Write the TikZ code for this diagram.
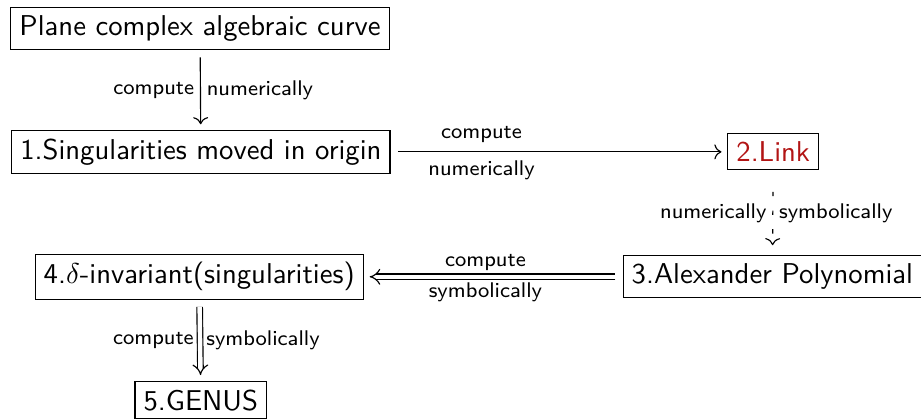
\documentclass[tikz,border=0pt]{standalone}
\usepackage{amsmath,amssymb}
\usepackage{tikz}
\usetikzlibrary{arrows.meta}
\definecolor{linkred}{RGB}{178,20,20}

\begin{document}
\begin{tikzpicture}[font=\sffamily,
  box/.style={draw, inner xsep=3pt, inner ysep=2.8pt},
  lab/.style={font=\sffamily\fontsize{7.4}{9}\selectfont, inner sep=2pt},
  single/.style={->, shorten <=2.5pt, shorten >=2pt},
  twin/.style={double equal sign distance, -Implies, shorten <=2.5pt, shorten >=2pt}]
\useasboundingbox (0,0) rectangle (11.28,5.12);
\node[box] (curve) at (2.45,4.77) {Plane complex algebraic curve};
\node[box] (sing) at (2.46,3.26) {1.Singularities moved in origin};
\node[box, text=linkred] (link) at (9.47,3.26) {2.Link};
\node[box] (alex) at (9.46,1.73) {3.Alexander Polynomial};
\node[box] (delta) at (2.44,1.73) {4.$\delta$-invariant(singularities)};
\node[box] (genus) at (2.46,0.22) {5.GENUS};
\draw[single] (curve) -- (sing) node[lab, midway, left] {compute} node[lab, midway, right] {numerically};
\draw[single] (sing) -- (link) node[lab, pos=0.27, above=1pt] {compute} node[lab, pos=0.27, below=1pt] {numerically};
\draw[->, dash pattern=on 1.5pt off 5pt, dash phase=1.5pt, shorten <=2.5pt, shorten >=3.5pt] (link) -- (alex) node[lab, midway, left] {numerically} node[lab, midway, right] {symbolically};
\draw[twin] (alex) -- (delta) node[lab, pos=0.53, above] {compute} node[lab, pos=0.53, below] {symbolically};
\draw[twin] (delta) -- (genus) node[lab, midway, left] {compute} node[lab, midway, right] {symbolically};
\end{tikzpicture}
\end{document}
